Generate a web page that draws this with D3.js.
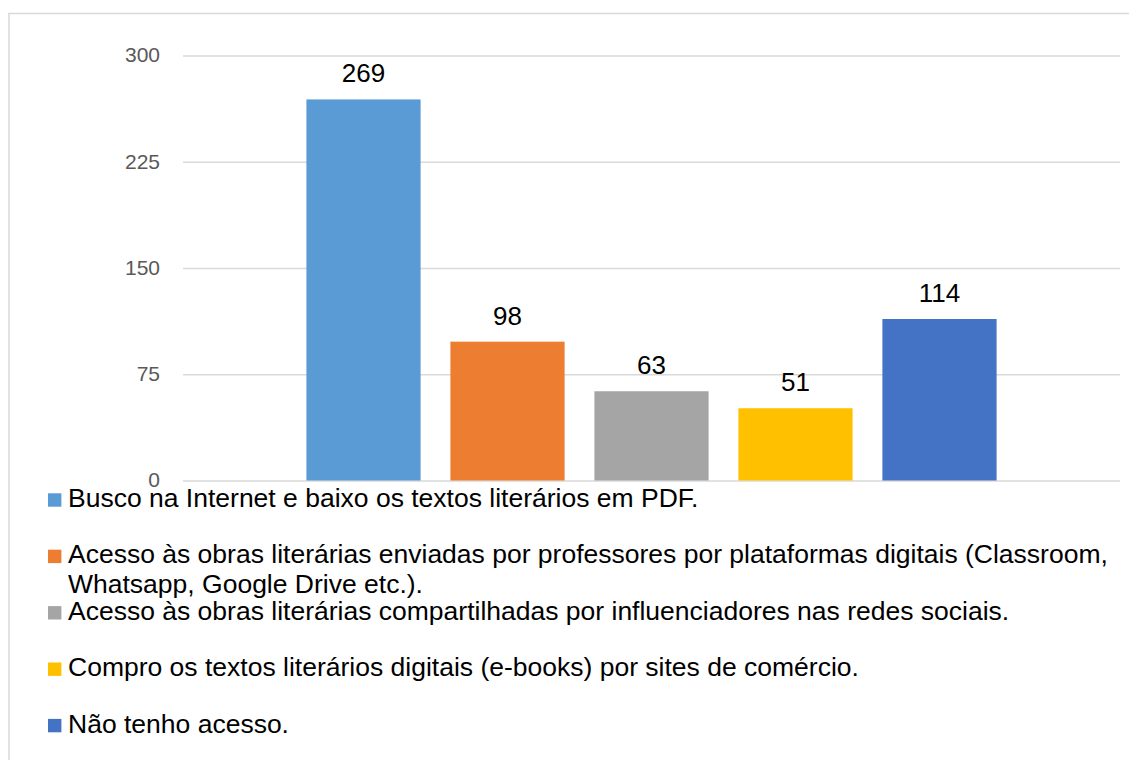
<!DOCTYPE html>
<html><head><meta charset="utf-8">
<script src="https://cdn.jsdelivr.net/npm/d3@7"></script>
<style>
html,body{margin:0;padding:0;background:#fff;}
svg{display:block;font-family:"Liberation Sans",Arial,sans-serif;}
</style></head>
<body>
<svg id="chart" width="1129" height="760"></svg>
<script>
const categories = [
  "Busco na Internet e baixo os textos literários em PDF.",
  "Acesso às obras literárias enviadas por professores por plataformas digitais (Classroom, Whatsapp, Google Drive etc.).",
  "Acesso às obras literárias compartilhadas por influenciadores nas redes sociais.",
  "Compro os textos literários digitais (e-books) por sites de comércio.",
  "Não tenho acesso."
];
const values = [269, 98, 63, 51, 114];
const colors = ["#5B9BD5", "#ED7D31", "#A5A5A5", "#FFC000", "#4472C4"];
const tickValues = [0, 75, 150, 225, 300];

const svg = d3.select("#chart");

// outer border
svg.append("rect").attr("x", 9).attr("y", 13.5).attr("width", 1200).attr("height", 800)
  .attr("fill", "none").attr("stroke", "#d9d9d9").attr("stroke-width", 1.5);

const plotLeft = 183, plotRight = 1120, plotTop = 55.5, plotBottom = 480.5;

const y = d3.scaleLinear().domain([0, 300]).range([plotBottom, plotTop]);
const x = d3.scaleBand().domain(categories).range([plotLeft, plotRight])
  .paddingInner(0.207).paddingOuter(0.857);

// gridlines via axis
const yAxis = d3.axisLeft(y).tickValues(tickValues).tickSize(-(plotRight - plotLeft)).tickPadding(23);
const gy = svg.append("g").attr("transform", `translate(${plotLeft},0)`).call(yAxis);
gy.select(".domain").remove();
gy.selectAll(".tick line").attr("stroke", "#d9d9d9").attr("stroke-width", 1.5);
gy.selectAll(".tick text").attr("fill", "#595959").attr("font-size", "21px")
  .attr("font-family", "'Liberation Sans',Arial,sans-serif").attr("dy", "0.3em");

// bars
svg.append("g").selectAll("rect").data(categories).join("rect")
  .attr("x", d => x(d)).attr("width", x.bandwidth())
  .attr("y", (d, i) => y(values[i])).attr("height", (d, i) => y(0) - y(values[i]))
  .attr("fill", (d, i) => colors[i]);

// value labels
svg.append("g").selectAll("text").data(categories).join("text")
  .attr("x", d => x(d) + x.bandwidth() / 2)
  .attr("y", (d, i) => y(values[i]) - 17)
  .attr("text-anchor", "middle").attr("font-size", "26px").attr("fill", "#000")
  .text((d, i) => values[i]);

// legend
const legendTop = 500, legendStep = 56.4, maxW = 1058, lineH = 30;
const lg = svg.append("g");
categories.forEach((c, i) => {
  const cy = legendTop + i * legendStep;
  lg.append("rect").attr("x", 48).attr("y", cy - 6.7).attr("width", 13.4).attr("height", 13.4).attr("fill", colors[i]);
  const t = lg.append("text").attr("x", 68).attr("y", cy + 7).attr("font-size", "26.5px").attr("fill", "#000");
  const words = c.split(" ");
  let line = [], tspan = t.append("tspan").attr("x", 68).attr("dy", 0);
  words.forEach(w => {
    line.push(w);
    tspan.text(line.join(" "));
    if (tspan.node().getComputedTextLength() > maxW && line.length > 1) {
      line.pop();
      tspan.text(line.join(" "));
      line = [w];
      tspan = t.append("tspan").attr("x", 68).attr("dy", lineH).text(w);
    }
  });
});
</script>
</body></html>
